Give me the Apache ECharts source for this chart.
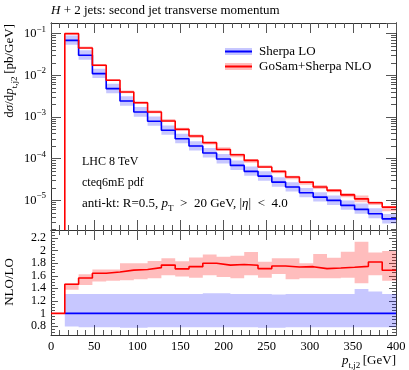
<!DOCTYPE html>
<html><head><meta charset="utf-8">
<script src="https://cdn.jsdelivr.net/npm/echarts@6/dist/echarts.min.js"></script>
<style>html,body{margin:0;padding:0;background:#fff}#c{width:409px;height:370px}</style>
</head><body><div id="c"></div>
<script>
// ---- data ----
const binEdges = [16,32,48,64,80,96,112,128,144,160,176,192,208,224,240,256,272,288,304,320,336,352,368,384,400];
const loXsec = [0.069,0.0303,0.011,0.00479,0.00242,0.00132,0.000789,0.00048,0.000301,0.000201,0.000137,0.0000982,
  0.0000692,0.0000497,0.0000383,0.0000275,0.0000209,0.0000152,0.000012,0.00001,0.0000076,0.0000061,0.0000048,0.0000036];
const nloXsec = [0.1,0.0454,0.0174,0.0076,0.00398,0.0022,0.00132,0.000802,0.000506,0.00035,0.000242,0.000167,
  0.000124,0.0000912,0.0000631,0.0000497,0.0000363,0.0000275,0.0000209,0.0000174,0.0000136,0.0000109,0.00000875,0.0000069];
const ratioNLO = [1.465,1.565,1.64,1.66,1.69,1.70,1.73,1.77,1.71,1.745,1.80,1.77,
  1.78,1.767,1.714,1.756,1.74,1.745,1.714,1.724,1.735,1.75,1.82,1.687];
const loBandLow  = [0.79,0.78,0.78,0.78,0.77,0.77,0.78,0.78,0.78,0.78,0.78,0.78,0.78,0.78,0.77,0.77,0.78,0.78,0.78,0.78,0.78,0.78,0.78,0.78];
const loBandHigh = [1.31,1.31,1.31,1.31,1.31,1.31,1.31,1.31,1.31,1.31,1.32,1.32,1.31,1.31,1.31,1.30,1.31,1.31,1.31,1.31,1.31,1.39,1.35,1.31];
const nloBandLow  = [1.375,1.454,1.51,1.52,1.53,1.545,1.56,1.61,1.59,1.57,1.61,1.58,1.56,1.61,1.57,1.63,1.545,1.56,1.56,1.56,1.57,1.48,1.61,1.52];
const nloBandHigh = [1.48,1.624,1.70,1.70,1.80,1.80,1.835,1.88,1.83,1.89,1.94,1.905,1.92,1.98,1.825,1.88,1.88,1.80,1.946,1.889,1.984,2.143,1.97,1.994];
const ratioTicks = [0.8,1,1.2,1.4,1.6,1.8,2,2.2];
const seriesNames = ['Sherpa LO','GoSam+Sherpa NLO'];

// ---- layout / style ----
const FONT = "'Liberation Serif','DejaVu Serif',serif";
const yMin = 1.95e-6, yMax = 0.18;
const rMin = 0.655, rMax = 2.33;
const BLUE = '#0000ff', RED = '#ff0000';
const BLUEBAND = 'rgba(0,0,255,0.22)', REDBAND = 'rgba(255,0,0,0.26)';
const AX = '#333', TK = '#555';

const logMinor = [];
for (let n = -6; n <= -1; n++) for (let k = 2; k <= 9; k++) {
  const v = k * Math.pow(10, n); if (v > yMin && v < yMax) logMinor.push(v);
}
const ratioMinor = [];
for (let k = 14; k <= 46; k++) ratioMinor.push(+(k * 0.05).toFixed(2));

function stepPoints(vals) {
  const pts = vals.map((v, i) => [binEdges[i], v]);
  pts.push([binEdges[vals.length], vals[vals.length - 1]]);
  return pts;
}
function bandSeries(name, xi, yi, lows, highs, color) {
  return {
    type: 'custom', name, xAxisIndex: xi, yAxisIndex: yi, silent: true, z: 1,
    itemStyle: { color }, color,
    data: [[binEdges[0], lows[0]]], encode: { x: 0, y: 1 },
    renderItem: (params, api) => {
      const top = [], bot = [];
      for (let i = 0; i < lows.length; i++) {
        top.push(api.coord([binEdges[i], highs[i]]), api.coord([binEdges[i + 1], highs[i]]));
        bot.push(api.coord([binEdges[i], lows[i]]), api.coord([binEdges[i + 1], lows[i]]));
      }
      return { type: 'polygon', shape: { points: top.concat(bot.reverse()) }, style: { fill: color } };
    }
  };
}
function lineSeries(name, xi, yi, data, color) {
  return { type: 'line', name, xAxisIndex: xi, yAxisIndex: yi, data, step: 'end', symbol: 'none',
    color, itemStyle: { color }, lineStyle: { color, width: 1.6 }, z: 3, silent: true, animation: false };
}

const loMainLow = loXsec.map((v, i) => v * loBandLow[i]);
const loMainHigh = loXsec.map((v, i) => v * loBandHigh[i]);
const nloMainLow = loXsec.map((v, i) => v * nloBandLow[i]);
const nloMainHigh = loXsec.map((v, i) => v * nloBandHigh[i]);
const loRatio = loXsec.map(v => v / v);

function xAxisDef(grid, pos, labels) {
  return { type: 'value', gridIndex: grid, position: pos, min: 0, max: 400, interval: 50,
    axisLine: { show: true, onZero: false, lineStyle: { color: AX, width: 1 } },
    axisTick: { show: true, inside: true, length: 10, lineStyle: { color: TK } },
    minorTick: { show: true, splitNumber: 5, length: 5, lineStyle: { color: TK } },
    splitLine: { show: false }, minorSplitLine: { show: false },
    axisLabel: { show: labels, margin: 5, showMinLabel: true, showMaxLabel: true, fontFamily: FONT, fontSize: 12.5, color: '#000' } };
}
function logAxisDef(pos, major, labels) {
  const a = { type: 'log', logBase: 10, gridIndex: 0, position: pos, min: yMin, max: yMax,
    axisLine: { show: true, onZero: false, lineStyle: { color: AX, width: 1 } },
    splitLine: { show: false },
    axisTick: { show: true, inside: true, length: major ? 10 : 5, lineStyle: { color: TK } },
    axisLabel: { show: false } };
  if (!major) { a.axisTick.customValues = logMinor; a.axisLabel.customValues = logMinor; }
  if (labels) {
    a.axisLabel = { show: true, margin: 5, showMinLabel: false, showMaxLabel: false,
      formatter: v => { const e = Math.round(Math.log10(v)); return '{b|10}{s|' + (e < 0 ? '\u2212' : '') + Math.abs(e) + '}'; },
      rich: { b: { fontFamily: FONT, fontSize: 12.5, lineHeight: 18, color: '#000' },
              s: { fontFamily: FONT, fontSize: 9, lineHeight: 10, verticalAlign: 'top', color: '#000' } } };
  }
  return a;
}
function ratioAxisDef(pos, major, labels) {
  const vals = major ? ratioTicks : ratioMinor;
  return { type: 'value', gridIndex: 1, position: pos, min: rMin, max: rMax,
    axisLine: { show: true, onZero: false, lineStyle: { color: AX, width: 1 } },
    splitLine: { show: false },
    axisTick: { show: true, inside: true, length: major ? 7 : 4, customValues: vals, lineStyle: { color: TK } },
    axisLabel: { show: labels, customValues: vals, margin: 5, fontFamily: FONT, fontSize: 12, color: '#000' } };
}

const textRich = {
  i: { fontFamily: FONT, fontSize: 13, fontStyle: 'italic', lineHeight: 18, fill: '#000' },
  sub: { fontFamily: FONT, fontSize: 9, lineHeight: 10, verticalAlign: 'bottom', fill: '#000' }
};

const chart = echarts.init(document.getElementById('c'), null, { renderer: 'canvas' });
chart.setOption({
  animation: false,
  backgroundColor: '#fff',
  grid: [
    { left: 51, top: 23, width: 345, height: 207 },
    { left: 51, top: 230, width: 345, height: 105 }
  ],
  xAxis: [ xAxisDef(0, 'bottom', false), xAxisDef(0, 'top', false), xAxisDef(1, 'bottom', true), xAxisDef(1, 'top', false) ],
  yAxis: [ logAxisDef('left', true, true), logAxisDef('left', false, false), logAxisDef('right', true, false), logAxisDef('right', false, false),
           ratioAxisDef('left', true, true), ratioAxisDef('left', false, false), ratioAxisDef('right', true, false), ratioAxisDef('right', false, false) ],
  legend: [
    { data: ['LO band', 'NLO band'], orient: 'vertical', left: 225, top: 44, padding: 0, itemGap: 0,
      icon: 'rect', itemWidth: 27, itemHeight: 7, selectedMode: false, z: 4, formatter: () => ' ',
      textStyle: { fontFamily: FONT, fontSize: 13, lineHeight: 15, color: '#000', padding: [0, 0, 0, 2] } },
    { data: seriesNames, orient: 'vertical', left: 225, top: 44, padding: 0, itemGap: 0,
      icon: 'rect', itemWidth: 27, itemHeight: 2, selectedMode: false, z: 5,
      textStyle: { fontFamily: FONT, fontSize: 13, lineHeight: 15, color: '#000', padding: [0, 0, 0, 2] } }
  ],
  series: [
    bandSeries('LO band', 0, 0, loMainLow, loMainHigh, BLUEBAND),
    bandSeries('NLO band', 0, 0, nloMainLow, nloMainHigh, REDBAND),
    lineSeries(seriesNames[0], 0, 0, stepPoints(loXsec), BLUE),
    lineSeries(seriesNames[1], 0, 0, [[binEdges[0], yMin]].concat(stepPoints(nloXsec)), RED),
    bandSeries('LO band', 2, 4, loBandLow, loBandHigh, BLUEBAND),
    bandSeries('NLO band', 2, 4, nloBandLow, nloBandHigh, REDBAND),
    lineSeries(seriesNames[0], 2, 4, stepPoints(loRatio), BLUE),
    lineSeries(seriesNames[1], 2, 4, [[0, 1]].concat(stepPoints(ratioNLO)), RED)
  ],
  graphic: [
    { type: 'text', x: 51, y: 11, silent: true,
      style: { text: '{i|H} + 2 jets: second jet transverse momentum', fontFamily: FONT, fontSize: 13, fill: '#000',
        align: 'left', textAlign: 'left', verticalAlign: 'middle', textVerticalAlign: 'middle', rich: textRich } },
    { type: 'text', x: 10, y: 24, rotation: Math.PI / 2, silent: true,
      style: { text: 'd{i|\u03c3}/d{i|p}{sub|t,j2}\u2009[pb/GeV]', fontFamily: FONT, fontSize: 13, fill: '#000',
        align: 'right', textAlign: 'right', verticalAlign: 'middle', textVerticalAlign: 'middle', rich: textRich } },
    { type: 'text', x: 10, y: 282, rotation: Math.PI / 2, silent: true,
      style: { text: 'NLO/LO', fontFamily: FONT, fontSize: 13, fill: '#000',
        align: 'center', textAlign: 'center', verticalAlign: 'middle', textVerticalAlign: 'middle' } },
    { type: 'text', x: 396, y: 361, silent: true,
      style: { text: '{i|p}{sub|t,j2}\u2009[GeV]', fontFamily: FONT, fontSize: 13, fill: '#000',
        align: 'right', textAlign: 'right', verticalAlign: 'middle', textVerticalAlign: 'middle', rich: textRich } },
    { type: 'text', x: 82, y: 162, silent: true,
      style: { text: 'LHC 8 TeV', fontFamily: FONT, fontSize: 12, fill: '#000', verticalAlign: 'middle', textVerticalAlign: 'middle' } },
    { type: 'text', x: 82, y: 183, silent: true,
      style: { text: 'cteq6mE pdf', fontFamily: FONT, fontSize: 12, fill: '#000', verticalAlign: 'middle', textVerticalAlign: 'middle' } },
    { type: 'text', x: 82, y: 204, silent: true,
      style: { text: 'anti-kt: R=0.5, {i|p}{sub|T}\u2002>\u200220 GeV, |{i|\u03b7}|\u2002<\u20024.0', fontFamily: FONT, fontSize: 13, fill: '#000',
        verticalAlign: 'middle', textVerticalAlign: 'middle', rich: textRich } }
  ]
});
</script></body></html>
